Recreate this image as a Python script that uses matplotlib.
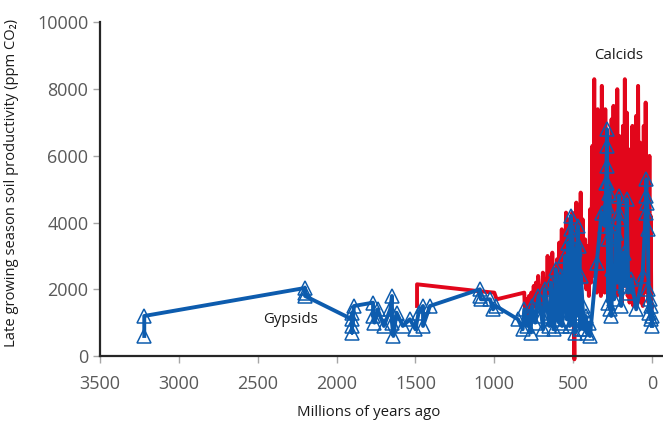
import matplotlib
matplotlib.use("Agg")
import matplotlib.pyplot as plt

# red series: calcids (age in Ma, productivity in ppm CO2)
red_age = [1490, 1490, 1110, 1000, 985, 810, 805, 795, 790, 780, 772, 765, 758, 750,
           744, 736, 730, 722, 716, 708, 700, 692, 686, 678, 670, 662, 656, 648, 640,
           632, 626, 618, 610, 602, 596, 588, 580, 572, 566, 560, 552, 545, 540, 532,
           526, 520, 512, 505, 498, 492, 488, 480, 474, 466, 460, 452, 446, 440, 432,
           424, 416, 408, 400, 392, 386, 378, 372, 366, 362, 356, 350, 344, 338, 330,
           324, 318, 312, 306, 300, 296, 290, 284, 278, 270, 264, 256, 250, 244, 238,
           232, 226, 220, 214, 208, 202, 196, 190, 184, 178, 172, 166, 160, 154, 148,
           142, 136, 130, 124, 118, 112, 106, 100, 94, 88, 82, 76, 70, 64, 58, 52, 46,
           40, 34, 28, 22, 16, 12, 8, 4, 0]
red_val = [1500, 2150, 1950, 1900, 1700, 1900, 1300, 1700, 1250, 1800, 1300, 1900, 1400, 2100,
           1500, 2200, 1500, 2400, 1600, 2100, 1500, 2500, 1700, 2300, 1600, 3000, 1900, 2700, 1800,
           3100, 2000, 2600, 1700, 2900, 2000, 3400, 2200, 3800, 2400, 3200, 2100, 4300, 2600, 4100,
           2400, 3600, 2200, 4300, 1500, -100, 1800, 4600, 2400, 3800, 2300, 4900, 2600, 4100, 2200,
           3500, 2000, 3300, 1800, 4400, 2200, 6300, 2400, 8300, 2500, 6800, 1900, 7400, 2200, 6300,
           1800, 8100, 2600, 6700, 1900, 7400, 2100, 6600, 1700, 5800, 1900, 7100, 2000, 7500, 2200,
           6500, 1800, 8000, 2400, 6600, 1800, 5600, 1600, 6900, 2100, 8300, 2200, 7300, 1800, 5900,
           1600, 6200, 1900, 6900, 1500, 5300, 1700, 7200, 2100, 8100, 1900, 6400, 1600, 5600, 1500,
           6900, 1900, 7600, 2200, 5500, 1600, 6000, 1700, 4200, 1400, 1500]

# blue series: gypsids
blue_age = [3220, 3220, 2200, 2200, 2200, 1902, 1902, 1902, 1900, 1890, 1769, 1769, 1760,
            1740, 1700, 1660, 1649, 1649, 1640, 1620, 1580, 1535, 1500, 1480, 1452, 1452,
            1408, 1091, 1091, 1085, 1027, 1008, 990, 850, 820, 810, 790, 780, 770, 760, 740,
            720, 700, 690, 680, 660, 650, 640, 630, 620, 610, 600, 590, 580, 570, 560, 550,
            540, 530, 522, 515, 515, 510, 505, 500, 495, 490, 485, 478, 470, 465, 460, 455,
            450, 440, 430, 420, 410, 400, 393, 350, 320, 300, 290, 285, 285, 285, 283,
            282, 280, 276, 270, 266, 262, 258, 252, 240, 230, 220, 210, 210, 208, 205, 195,
            180, 170, 160, 150, 130, 100, 60, 40, 35, 35, 30, 26, 22, 18, 12, 8, 4, 0, 0]
blue_val = [600, 1200, 2040, 1900, 1800, 1100, 700, 1300, 900, 1500, 1600, 1200, 1000,
            1400, 900, 1400, 1800, 1000, 600, 1300, 900, 1100, 800, 1300, 1500, 900,
            1500, 2000, 1800, 1700, 1700, 1400, 1500, 1100, 800, 1400, 900, 1200, 700, 1500, 1000,
            1800, 1200, 800, 2000, 1300, 900, 2200, 1100, 800, 2600, 1300, 1000, 2400, 900, 1800, 3000,
            1100, 3400, 900, 4200, 3800, 1500, 3600, 1000, 2800, 700, 3200, 1200, 3900, 1300, 3300, 800,
            2400, 1500, 800, 1200, 700, 1000, 600, 2800, 4300, 3900, 5200, 6800, 6300, 5700, 5200,
            4500, 3500, 1600, 4900, 1400, 3900, 1200, 2600, 1700, 3700, 2200, 4800, 4100, 4300, 2500, 1500,
            3100, 2100, 4700, 1900, 2300, 1400, 2400, 4300, 5300, 4800, 4600, 3800, 2000, 1300, 1700, 1100,
            1500, 1200, 900]

x_ticks = [3500, 3000, 2500, 2000, 1500, 1000, 500, 0]
y_ticks = [0, 2000, 4000, 6000, 8000, 10000]

plt.rcParams['font.family'] = ['Open Sans', 'DejaVu Sans']

fig = plt.figure(figsize=(6.63, 4.22), dpi=100)
ax = fig.add_axes([0.151, 0.1564, 0.849, 0.7903])

red_c = '#e2061b'
blue_c = '#0d5cae'

ax.plot(red_age, red_val, color=red_c, lw=2.8, zorder=2, clip_on=False)
ax.plot(blue_age, blue_val, color=blue_c, lw=2.8, marker='^', ms=10.5,
        mfc='none', mec=blue_c, mew=1.1, zorder=3)

ax.text(210, 9000, 'Calcids', fontsize=10.8, ha='center', va='center', color='#1a1a1a')
ax.text(2290, 1080, 'Gypsids', fontsize=10.8, ha='center', va='center', color='#1a1a1a')

ax.set_xlim(3500, -70)
ax.set_ylim(0, 10000)
ax.set_xticks(x_ticks)
ax.set_yticks(y_ticks)
ax.tick_params(axis='both', labelsize=13, labelcolor='#595959', color='#a6a6a6',
               length=5, width=1)
ax.tick_params(axis='x', pad=9)

for s in ['top', 'right']:
    ax.spines[s].set_visible(False)
for s in ['left', 'bottom']:
    ax.spines[s].set_linewidth(1.6)
    ax.spines[s].set_color('#262626')

ax.set_ylabel('Late growing season soil productivity (ppm CO\u2082)', fontsize=10.6,
              color='#1a1a1a')
ax.set_xlabel('Millions of years ago', fontsize=10.8, color='#1a1a1a')
ax.yaxis.set_label_coords(-0.144, 0.52)
ax.xaxis.set_label_coords(0.478, -0.148)

fig.savefig('out.png', dpi=100)
